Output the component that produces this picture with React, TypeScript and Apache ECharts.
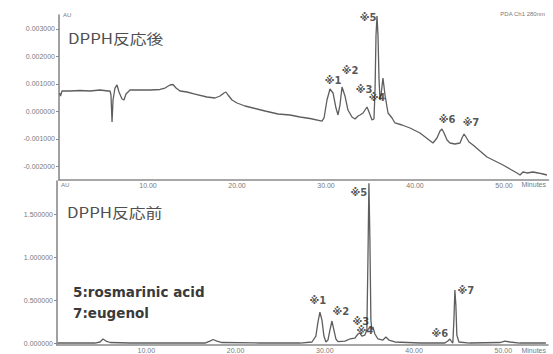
import React, { useEffect, useRef } from 'react';
import * as echarts from 'echarts';

// Chromatogram after the DPPH reaction: [retention time (min), absorbance (mAU)]
const afterTrace: [number, number][] = [
  [0.06, 0.664], [0.17, 0.555], [0.34, 0.736], [1.24, 0.736], [2.36, 0.755], [3.48, 0.736],
  [4.61, 0.773], [5.51, 0.736], [5.73, 0.736], [5.84, 0.591], [5.96, -0.391], [6.07, 0.409],
  [6.29, 0.845], [6.52, 0.955], [6.74, 0.7], [7.08, 0.445], [7.3, 0.409], [7.53, 0.627],
  [7.98, 0.773], [9.1, 0.773], [10.22, 0.773], [11.35, 0.791], [11.91, 0.845], [12.47, 0.955],
  [12.81, 0.973], [13.15, 0.845], [13.6, 0.736], [14.38, 0.7], [15.28, 0.627], [16.63, 0.518],
  [17.53, 0.482], [18.09, 0.555], [18.54, 0.664], [18.76, 0.7], [18.99, 0.591], [19.44, 0.409],
  [20.0, 0.3], [20.9, 0.191], [21.8, 0.118], [23.15, 0.009], [24.61, -0.1], [25.96, -0.136],
  [27.08, -0.209], [28.2, -0.264], [29.55, -0.355], [29.78, -0.245], [30.11, 0.409], [30.45, 0.809],
  [30.79, 0.664], [31.12, 0.118], [31.35, -0.136], [31.57, 0.227], [31.8, 0.882], [32.13, 0.555],
  [32.47, 0.045], [32.92, -0.209], [33.26, -0.282], [33.6, -0.173], [33.82, -0.136], [34.16, -0.064],
  [34.61, 0.155], [34.83, -0.027], [35.17, -0.318], [35.39, -0.282], [35.51, 0.773], [35.62, 2.773],
  [35.73, 3.464], [35.84, 2.773], [35.96, 1.136], [36.07, 0.409], [36.18, 0.591], [36.4, 1.209],
  [36.63, 0.591], [36.97, -0.064], [37.42, -0.245], [37.75, -0.427], [38.54, -0.5], [39.44, -0.609],
  [40.56, -0.791], [42.02, -1.155], [42.47, -0.973], [42.81, -0.718], [43.03, -0.645], [43.26, -0.791],
  [43.6, -1.045], [43.93, -1.155], [44.49, -1.191], [45.06, -1.155], [45.28, -0.973], [45.51, -0.827],
  [45.73, -0.936], [46.07, -1.118], [46.52, -1.227], [47.3, -1.445], [48.09, -1.664], [48.99, -1.809],
  [49.89, -1.955], [50.67, -2.1], [51.46, -2.245], [51.8, -2.318], [52.13, -2.209], [52.58, -2.245],
  [53.26, -2.209], [53.82, -2.245], [54.38, -2.282], [54.83, -2.318],
];

// Chromatogram before the DPPH reaction: [retention time (min), absorbance (AU)]
const beforeTrace: [number, number][] = [
  [0.06, 0], [1.46, 0], [4.26, 0], [4.82, 0.012], [5.15, 0.047], [5.49, 0.023], [5.94, 0.006],
  [8.17, 0], [16.57, 0], [17.13, 0.023], [17.47, 0.041], [17.92, 0.023], [18.48, 0.006], [22.73, 0],
  [27.21, 0], [28.56, 0.012], [29.0, 0.081], [29.23, 0.244], [29.45, 0.36], [29.68, 0.267],
  [29.9, 0.081], [30.12, 0.012], [30.35, 0.035], [30.57, 0.151], [30.8, 0.256], [31.02, 0.151],
  [31.24, 0.047], [31.47, 0.017], [32.25, 0.023], [32.81, 0.047], [33.37, 0.058], [33.71, 0.105],
  [33.93, 0.116], [34.15, 0.081], [34.49, 0.093], [34.71, 0.151], [34.83, 0.965], [34.94, 1.86],
  [35.05, 1.198], [35.16, 0.267], [35.27, 0.151], [35.39, 0.186], [35.61, 0.105], [35.95, 0.047],
  [36.51, 0.035], [36.84, 0.07], [37.18, 0.035], [37.85, 0.012], [40.65, 0], [43.45, 0],
  [43.78, 0.023], [44.01, 0.047], [44.23, 0.012], [44.34, 0], [44.46, 0.267], [44.57, 0.616],
  [44.68, 0.442], [44.79, 0.093], [45.02, 0.012], [46.25, 0], [49.61, 0.006], [50.17, 0.023],
  [50.73, 0.012], [51.85, 0], [54.76, 0],
];

const peakNames = ['※1', '※2', '※3', '※4', '※5', '※6', '※7'];
// Peak tag anchors in each panel's data units
const afterPeakTags: [number, number][] = [
  [30.79, 1.136], [32.7, 1.5], [34.27, 0.773], [35.73, 0.482], [34.72, 3.391], [43.6, -0.318], [46.29, -0.427],
];
const beforePeakTags: [number, number][] = [
  [29.23, 0.5], [31.8, 0.372], [34.04, 0.256], [34.49, 0.14], [33.82, 1.756], [42.89, 0.116], [45.8, 0.616],
];

const timeTicks = [10, 20, 30, 40, 50];
const afterTicks = [-2, -1, 0, 1, 2, 3]; // mAU
const beforeTicks = [0, 0.5, 1, 1.5]; // AU

const compounds = ['5:rosmarinic acid', '7:eugenol'];

const AXIS = '#8a8a8a';
const TRACE = '#5e5e5e';
const LABEL = '#7a7a7a';

export default function App() {
  const ref = useRef<HTMLDivElement>(null);

  useEffect(() => {
    document.body.style.margin = '0';
    if (!ref.current) return;
    const chart = echarts.init(ref.current, undefined, { renderer: 'svg' });

    const xAxisBase = (gridIndex: number) => ({
      type: 'value' as const,
      gridIndex,
      min: 0,
      max: 55,
      axisLine: { show: true, onZero: false, lineStyle: { color: AXIS, width: 1.6 } },
      axisTick: { show: false },
      splitLine: { show: false },
      axisLabel: {
        customValues: timeTicks,
        formatter: (v: number) => v.toFixed(2),
        fontSize: 7,
        color: LABEL,
        margin: 2,
        fontFamily: 'Liberation Sans',
      },
    });

    const tagSeries = (idx: number, tags: [number, number][]) => ({
      type: 'scatter' as const,
      xAxisIndex: idx,
      yAxisIndex: idx,
      symbolSize: 1,
      itemStyle: { color: 'rgba(0,0,0,0)' },
      silent: true,
      z: 5,
      data: tags.map((p, i) => ({ value: p, name: peakNames[i] })),
      label: {
        show: true,
        position: 'inside' as const,
        formatter: '{b}',
        fontSize: 10,
        fontWeight: 'bold' as const,
        color: '#2a2a2a',
        fontFamily: 'DejaVu Sans',
      },
    });

    chart.setOption({
      animation: false,
      backgroundColor: '#ffffff',
      grid: [
        { left: 59, top: 15, width: 489.5, height: 165 },
        { left: 57, top: 181, width: 491, height: 164 },
      ],
      xAxis: [xAxisBase(0), xAxisBase(1)],
      yAxis: [
        {
          type: 'value',
          gridIndex: 0,
          min: -2.5,
          max: 3.5,
          name: 'AU',
          nameLocation: 'end',
          nameGap: 0,
          nameTextStyle: { fontSize: 6, color: LABEL, align: 'left', verticalAlign: 'middle', padding: [0, 0, 0, 4] },
          axisLine: { show: true, lineStyle: { color: AXIS, width: 1.6 } },
          axisTick: { show: true, customValues: afterTicks, length: 3, lineStyle: { color: AXIS } },
          splitLine: { show: false },
          axisLabel: {
            customValues: afterTicks,
            formatter: (v: number) => (v / 1000).toFixed(6),
            fontSize: 7,
            color: LABEL,
            margin: 4,
            fontFamily: 'Liberation Sans',
          },
        },
        {
          type: 'value',
          gridIndex: 1,
          min: -0.023,
          max: 1.885,
          name: 'AU',
          nameLocation: 'end',
          nameGap: 0,
          nameTextStyle: { fontSize: 6, color: LABEL, align: 'left', verticalAlign: 'top', padding: [1, 0, 0, 4] },
          axisLine: { show: true, lineStyle: { color: AXIS, width: 1.6 } },
          axisTick: { show: true, customValues: beforeTicks, length: 3, lineStyle: { color: AXIS } },
          splitLine: { show: false },
          axisLabel: {
            customValues: beforeTicks,
            formatter: (v: number) => v.toFixed(6),
            fontSize: 7,
            color: LABEL,
            margin: 4,
            fontFamily: 'Liberation Sans',
          },
        },
      ],
      series: [
        {
          type: 'line',
          xAxisIndex: 0,
          yAxisIndex: 0,
          data: afterTrace,
          showSymbol: false,
          clip: false,
          lineStyle: { color: TRACE, width: 1.3 },
        },
        {
          type: 'line',
          xAxisIndex: 1,
          yAxisIndex: 1,
          data: beforeTrace,
          showSymbol: false,
          clip: false,
          lineStyle: { color: TRACE, width: 1.3 },
        },
        tagSeries(0, afterPeakTags),
        tagSeries(1, beforePeakTags),
      ],
      graphic: [
        {
          type: 'text', x: 68, y: 38, scaleX: 1.2,
          style: { text: 'DPPH反応後', fontSize: 14, fontFamily: 'Noto Sans CJK JP', fill: '#505050', textVerticalAlign: 'middle' },
        },
        {
          type: 'text', x: 67, y: 212, scaleX: 1.2,
          style: { text: 'DPPH反応前', fontSize: 14, fontFamily: 'Noto Sans CJK JP', fill: '#505050', textVerticalAlign: 'middle' },
        },
        {
          type: 'text', x: 73, y: 292,
          style: { text: compounds[0], fontSize: 13.5, fontWeight: 'bold', fontFamily: 'DejaVu Sans', fill: '#3a3a3a', textVerticalAlign: 'middle' },
        },
        {
          type: 'text', x: 73, y: 313,
          style: { text: compounds[1], fontSize: 13.5, fontWeight: 'bold', fontFamily: 'DejaVu Sans', fill: '#3a3a3a', textVerticalAlign: 'middle' },
        },
        {
          type: 'text', x: 545, y: 14,
          style: { text: 'PDA Ch1 280nm', fontSize: 6, fontFamily: 'Liberation Sans', fill: LABEL, textAlign: 'right', textVerticalAlign: 'middle' },
        },
        {
          type: 'text', x: 546, y: 184,
          style: { text: 'Minutes', fontSize: 7, fontFamily: 'Liberation Sans', fill: LABEL, textAlign: 'right', textVerticalAlign: 'middle' },
        },
        {
          type: 'text', x: 546, y: 350,
          style: { text: 'Minutes', fontSize: 7, fontFamily: 'Liberation Sans', fill: LABEL, textAlign: 'right', textVerticalAlign: 'middle' },
        },
      ],
    });

    return () => chart.dispose();
  }, []);

  return <div ref={ref} style={{ width: 553, height: 354 }} />;
}
